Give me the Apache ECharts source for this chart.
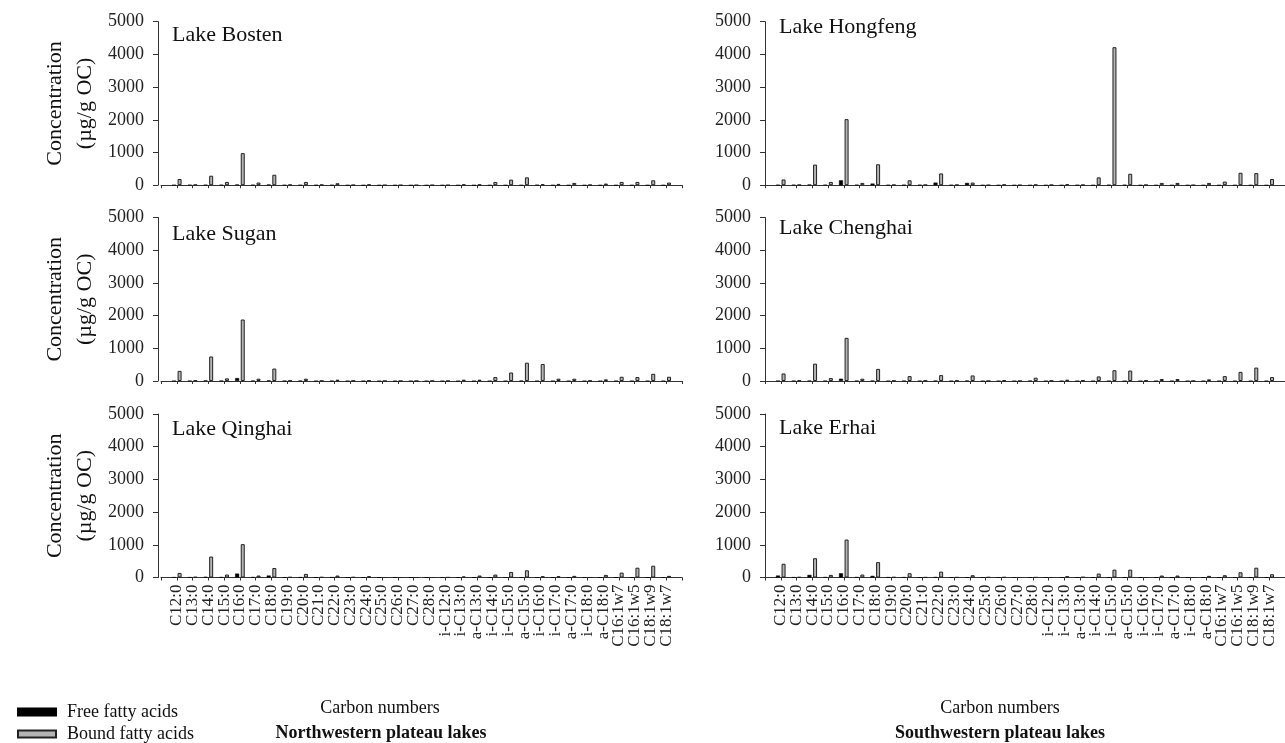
<!DOCTYPE html>
<html>
<head>
<meta charset="utf-8">
<script src="https://cdn.jsdelivr.net/npm/echarts@6/dist/echarts.min.js"></script>
<style>
html,body{margin:0;padding:0;background:#fff;}
#chart{width:1285px;height:743px;}
</style>
</head>
<body>
<div id="chart"></div>
<script>
// ---- Data ----
var categories = ['C12:0','C13:0','C14:0','C15:0','C16:0','C17:0','C18:0','C19:0','C20:0','C21:0','C22:0','C23:0','C24:0','C25:0','C26:0','C27:0','C28:0','i-C12:0','i-C13:0','a-C13:0','i-C14:0','i-C15:0','a-C15:0','i-C16:0','i-C17:0','a-C17:0','i-C18:0','a-C18:0','C16:1w7','C16:1w5','C18:1w9','C18:1w7'];
var yTicks = [0, 1000, 2000, 3000, 4000, 5000];
var lakeNames = ['Lake Bosten','Lake Hongfeng','Lake Sugan','Lake Chenghai','Lake Qinghai','Lake Erhai'];
var seriesNames = ['Free fatty acids','Bound fatty acids'];

var freeBosten    = [5,10,10,10,20,10,20,5,5,5,5,0,0,0,0,0,0,0,0,0,0,0,0,10,0,0,0,0,0,0,0,0];
var boundBosten   = [190,15,290,100,980,80,320,15,100,15,60,5,20,0,0,0,0,0,20,20,100,170,240,30,40,70,10,50,100,100,150,80];

var freeHongfeng  = [10,10,20,10,150,10,50,5,10,10,80,5,70,0,0,0,0,0,0,5,0,10,10,0,0,0,0,0,0,0,0,0];
var boundHongfeng = [175,10,630,100,2020,70,640,10,150,10,360,10,80,0,20,0,15,10,30,10,240,4220,350,10,70,70,0,70,110,380,370,190];

var freeSugan     = [5,5,20,10,90,10,20,5,10,0,5,0,0,0,0,0,0,0,0,0,0,0,10,0,0,0,0,0,0,0,0,0];
var boundSugan    = [310,15,750,80,1880,70,380,10,70,5,40,5,15,0,0,0,0,0,40,40,120,260,560,520,70,70,10,50,130,120,220,130];

var freeChenghai  = [5,5,10,5,70,5,10,0,5,0,10,0,15,0,0,0,10,0,0,0,0,0,0,0,0,0,0,0,0,0,0,0];
var boundChenghai = [230,15,530,90,1320,70,370,10,150,10,180,10,170,0,20,0,100,10,40,20,140,330,320,20,60,60,0,50,150,280,410,120];

var freeQinghai   = [5,5,20,10,120,10,60,0,5,0,5,0,0,0,0,0,0,0,0,0,0,0,0,0,0,0,0,0,0,0,0,0];
var boundQinghai  = [140,15,640,90,1020,60,290,10,110,10,60,10,40,0,0,0,0,5,30,60,90,170,220,40,40,50,0,80,150,300,360,50];

var freeErhai     = [60,5,80,10,130,10,50,5,5,0,10,0,0,0,0,0,0,0,0,0,0,0,0,0,0,0,0,0,0,0,0,0];
var boundErhai    = [420,10,590,80,1160,90,470,10,130,5,180,5,70,10,10,0,5,0,40,15,120,240,240,0,60,60,0,50,70,160,300,100];

var panels = [
  {name: lakeNames[0], free: freeBosten,   bound: boundBosten},
  {name: lakeNames[1], free: freeHongfeng, bound: boundHongfeng},
  {name: lakeNames[2], free: freeSugan,    bound: boundSugan},
  {name: lakeNames[3], free: freeChenghai, bound: boundChenghai},
  {name: lakeNames[4], free: freeQinghai,  bound: boundQinghai},
  {name: lakeNames[5], free: freeErhai,    bound: boundErhai}
];

// ---- Layout ----
var SERIF = '"Liberation Serif","Times New Roman",serif';
var tops = [21.7, 217.5, 414];
var panelH = 163.5;
var colLeft = [161, 765];
var colWidth = [521, 525];
var yOffset = [3, 0];
var nameX = [172, 779];
var nameY = [[35, 27], [234, 228], [429, 428]];

var grids = [], xAxes = [], yAxes = [], series = [], graphics = [];

function toPairs(arr) {
  return arr.map(function (v, i) { return [i, v]; });
}

panels.forEach(function (p, k) {
  var row = Math.floor(k / 2), col = k % 2;
  grids.push({left: colLeft[col], top: tops[row], width: colWidth[col], height: panelH, containLabel: false});
  xAxes.push({
    type: 'value', gridIndex: k, min: -1, max: 32, interval: 1,
    axisLine: {show: true, onZero: false, lineStyle: {color: '#333', width: 1}},
    axisTick: {show: true, length: 3, lineStyle: {color: '#333'}},
    splitLine: {show: false},
    axisLabel: {
      show: row === 2, rotate: 90, margin: 7, fontFamily: SERIF, fontSize: 17, color: '#222',
      showMinLabel: true, showMaxLabel: true,
      formatter: function (v) { return categories[v] !== undefined ? categories[v] : ''; }
    }
  });
  yAxes.push({
    type: 'value', gridIndex: k, min: yTicks[0], max: yTicks[yTicks.length - 1], interval: yTicks[1] - yTicks[0],
    offset: yOffset[col],
    axisLine: {show: true, onZero: false, lineStyle: {color: '#333', width: 1}},
    axisTick: {show: true, length: 5, lineStyle: {color: '#333'}},
    splitLine: {show: false},
    axisLabel: {margin: 14, fontFamily: SERIF, fontSize: 18, color: '#222',
      formatter: function (v) { return String(v); }}
  });
  series.push({
    name: seriesNames[0], type: 'bar', xAxisIndex: k, yAxisIndex: k,
    barWidth: 4, barGap: '40%',
    itemStyle: {color: '#000', borderColor: '#000', borderWidth: 0.5},
    data: toPairs(p.free)
  });
  series.push({
    name: seriesNames[1], type: 'bar', xAxisIndex: k, yAxisIndex: k,
    barWidth: 4, barGap: '40%',
    itemStyle: {color: '#b4b4b4', borderColor: '#222', borderWidth: 1},
    data: toPairs(p.bound)
  });
  graphics.push({
    type: 'text', x: nameX[col], y: nameY[row][col],
    style: {text: p.name, font: '22px ' + SERIF, fill: '#111', textAlign: 'left', textVerticalAlign: 'middle', align: 'left', verticalAlign: 'middle'}
  });
  if (col === 0) {
    graphics.push({
      type: 'text', x: 70, y: tops[row] + panelH / 2, rotation: Math.PI / 2,
      style: {text: 'Concentration\n(µg/g OC)', font: '22px ' + SERIF, lineHeight: 30, fill: '#111',
        textAlign: 'center', textVerticalAlign: 'middle', align: 'center', verticalAlign: 'middle'}
    });
  }
});

var bottomTexts = [
  {t: 'Carbon numbers', x: 380, y: 708, font: '18px ' + SERIF},
  {t: 'Northwestern plateau lakes', x: 381, y: 733, font: 'bold 18px ' + SERIF},
  {t: 'Carbon numbers', x: 1000, y: 708, font: '18px ' + SERIF},
  {t: 'Southwestern plateau lakes', x: 1000, y: 733, font: 'bold 18px ' + SERIF}
];
bottomTexts.forEach(function (b) {
  graphics.push({
    type: 'text', x: b.x, y: b.y,
    style: {text: b.t, font: b.font, fill: '#111', textAlign: 'center', textVerticalAlign: 'middle', align: 'center', verticalAlign: 'middle'}
  });
});

var legendTops = [697, 719];
var legends = seriesNames.map(function (n, i) {
  return {
    data: [n], orient: 'horizontal', left: 12, top: legendTops[i],
    icon: 'rect', itemWidth: 38, itemHeight: 7, itemGap: 2,
    textStyle: {fontFamily: SERIF, fontSize: 18, color: '#111', lineHeight: 20, padding: [0, 0, 0, 6]}
  };
});

var chart = echarts.init(document.getElementById('chart'), null, {renderer: 'canvas'});
chart.setOption({
  animation: false,
  backgroundColor: '#fff',
  grid: grids,
  xAxis: xAxes,
  yAxis: yAxes,
  legend: legends,
  graphic: graphics,
  series: series
});
</script>
</body>
</html>
